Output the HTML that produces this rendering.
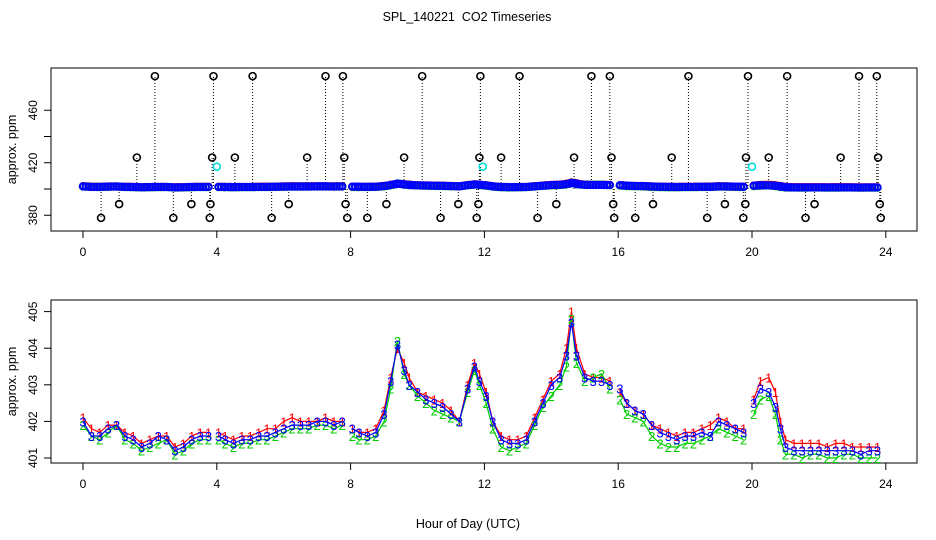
<!DOCTYPE html>
<html><head><meta charset="utf-8"><style>
html,body{margin:0;padding:0;background:#fff;}
svg{display:block;font-family:"Liberation Sans",sans-serif;}
</style></head><body>
<svg id="chart" width="936" height="540" viewBox="0 0 936 540">
<text x="467" y="21" font-size="12.5" text-anchor="middle" style="white-space:pre">SPL_140221  CO2 Timeseries</text>
<text x="468" y="528" font-size="12.5" text-anchor="middle">Hour of Day (UTC)</text>
<g id="top"></g>
<g id="bot"></g>
</svg>
<script>
const hours=[0,0.25,0.5,0.75,1,1.25,1.5,1.75,2,2.25,2.5,2.75,3,3.25,3.5,3.75,4.05,4.25,4.5,4.75,5,5.25,5.5,5.75,6,6.25,6.5,6.75,7,7.25,7.5,7.75,8.05,8.25,8.5,8.75,9,9.2,9.4,9.6,9.75,10,10.25,10.5,10.75,11,11.25,11.5,11.7,11.85,12.05,12.25,12.5,12.75,13,13.25,13.5,13.75,14,14.25,14.45,14.6,14.75,15,15.25,15.5,15.75,16.05,16.25,16.5,16.75,17,17.25,17.5,17.75,18,18.25,18.5,18.75,19,19.25,19.5,19.75,20.05,20.25,20.5,20.7,20.85,21,21.25,21.5,21.75,22,22.25,22.5,22.75,23,23.25,23.5,23.75];
const s1=[402.1,401.8,401.7,401.9,401.9,401.7,401.6,401.4,401.5,401.6,401.6,401.3,401.4,401.6,401.7,401.7,401.7,401.6,401.5,401.6,401.6,401.7,401.8,401.8,402.0,402.1,402.0,402.0,402.0,402.1,402.0,402.0,401.8,401.7,401.7,401.8,402.3,403.2,404.0,403.6,403.2,402.8,402.7,402.6,402.5,402.3,402.0,403.0,403.6,403.3,402.8,402.0,401.6,401.5,401.5,401.6,402.1,402.6,403.1,403.3,404.0,405.0,404.0,403.3,403.2,403.2,403.1,402.8,402.5,402.3,402.2,401.9,401.8,401.7,401.6,401.7,401.7,401.8,401.9,402.1,402.0,401.8,401.8,402.6,403.1,403.2,402.8,402.0,401.5,401.4,401.4,401.4,401.4,401.3,401.4,401.4,401.3,401.3,401.3,401.3];
const s2=[401.9,401.6,401.5,401.7,401.9,401.5,401.4,401.2,401.3,401.4,401.5,401.1,401.2,401.4,401.5,401.5,401.5,401.4,401.3,401.4,401.4,401.5,401.5,401.6,401.7,401.8,401.8,401.8,401.9,401.9,401.8,401.9,401.6,401.5,401.5,401.6,402.0,402.9,404.2,403.3,403.0,402.7,402.5,402.3,402.2,402.1,402.0,402.8,403.4,403.0,402.5,401.8,401.3,401.2,401.3,401.4,401.9,402.4,402.7,403.0,403.5,404.8,403.6,403.1,403.2,403.3,402.9,402.6,402.2,402.1,402.0,401.6,401.4,401.3,401.3,401.4,401.4,401.5,401.6,401.8,401.7,401.6,401.5,402.2,402.6,402.7,402.2,401.5,401.1,401.1,401.0,401.1,401.1,401.0,401.0,401.1,401.1,401.0,401.0,401.0];
const s3=[402.0,401.6,401.6,401.8,401.9,401.6,401.5,401.3,401.4,401.6,401.5,401.2,401.3,401.5,401.6,401.6,401.6,401.5,401.4,401.5,401.5,401.6,401.6,401.7,401.8,401.9,401.9,401.9,402.0,402.0,401.9,402.0,401.8,401.7,401.6,401.7,402.2,403.1,404.1,403.4,403.0,402.8,402.6,402.5,402.4,402.2,402.0,402.9,403.5,403.1,402.7,402.0,401.5,401.4,401.4,401.5,402.0,402.5,403.0,403.2,403.8,404.7,403.8,403.2,403.1,403.1,403.0,402.9,402.5,402.3,402.2,401.9,401.7,401.6,401.5,401.6,401.6,401.7,401.6,402.0,401.9,401.8,401.7,402.5,402.9,402.8,402.4,401.8,401.3,401.2,401.2,401.2,401.2,401.2,401.2,401.2,401.2,401.1,401.2,401.2];
const outHours=[2.15,3.9,5.07,7.25,7.77,10.14,11.88,13.05,15.2,15.75,18.1,19.88,21.05,23.2,23.73,1.61,3.86,4.54,6.7,7.81,9.6,11.85,12.5,14.68,15.8,17.6,19.82,20.5,22.65,23.77,1.08,3.24,3.81,6.15,7.85,9.07,11.22,11.82,14.15,15.85,17.04,19.19,19.8,21.87,23.82,0.54,2.7,3.79,5.64,7.9,8.5,10.69,11.77,13.59,15.88,16.51,18.66,19.74,21.6,23.85];
const outVals=[486,486,486,486,486,486,486,486,486,486,486,486,486,486,486,424,424,424,424,424,424,424,424,424,424,424,424,424,424,424,388.5,388.5,388.5,388.5,388.5,388.5,388.5,388.5,388.5,388.5,388.5,388.5,388.5,388.5,388.5,378,378,378,378,378,378,378,378,378,378,378,378,378,378,378];
const cyanHours=[4.0,11.95,20.0];
const cyanVals=[417,417,417];
const xTicks=[0,4,8,12,16,20,24];
const topYTicks=[380,400,420,440,460];
const topYLabels=["380","","420","","460"];
const botYTicks=[401,402,403,404,405];

const NS="http://www.w3.org/2000/svg";
function mk(p,t,a){const e=document.createElementNS(NS,t);for(const k in a)e.setAttribute(k,a[k]);p.appendChild(e);return e;}
const X=h=>83+h*33.45;
const L=51,R=917;
function frame(g,top,bot,yf,yt,ylab){
  let e=mk(g,'rect',{x:L,y:top,width:R-L,height:bot-top,fill:'none',stroke:'#000'});
  
  
  xTicks.forEach(t=>{mk(g,'line',{x1:X(t),x2:X(t),y1:bot,y2:bot+7,stroke:'#000'});
    const tx=mk(g,'text',{x:X(t),y:bot+25,'font-size':12,'text-anchor':'middle'});tx.textContent=t;
    
    });
  yt.forEach((t,i)=>{const y=yf(t);mk(g,'line',{x1:L-7,x2:L,y1:y,y2:y,stroke:'#000'});
    const lab=ylab[i];if(lab){const tx=mk(g,'text',{x:0,y:0,'font-size':12,'text-anchor':'middle',transform:`translate(37,${y}) rotate(-90)`});tx.textContent=lab;
    
    }});
  const yl=mk(g,'text',{x:0,y:0,'font-size':12.5,'text-anchor':'middle',transform:`translate(16,${(top+bot)/2}) rotate(-90)`});yl.textContent='approx. ppm';
  
  
}
function isGap(a,b){return b-a>0.27;}
// TOP
const gt=document.getElementById('top');
const YT=v=>189-(v-400)*1.3125;
frame(gt,68,231,YT,topYTicks,topYLabels);
outHours.forEach((h,i)=>{const l=mk(gt,'line',{x1:X(h),x2:X(h),y1:YT(400),y2:YT(outVals[i]),stroke:'#000','stroke-dasharray':'1,2'});
  
  
  const c=mk(gt,'circle',{cx:X(h),cy:YT(outVals[i]),r:3.5,fill:'none',stroke:'#000','stroke-width':1.6});
  
  });
[[s1,'#f00'],[s2,'#0c0'],[s3,'#00f']].forEach(([s,col])=>{
  for(let i=0;i<hours.length;i++){
    const n=(i<hours.length-1&&!isGap(hours[i],hours[i+1]))?3:1;
    for(let k=0;k<n;k++){const h=hours[i]+k*0.0833;const v=s[i]+(n>1?(s[i+1]-s[i])*k/3:0);
      const c=mk(gt,'circle',{cx:X(h),cy:YT(v),r:3.2,fill:'none',stroke:col,'stroke-width':2});
      
      }
  }});
cyanHours.forEach((h,i)=>{const c=mk(gt,'circle',{cx:X(h),cy:YT(cyanVals[i]),r:3.5,fill:'none',stroke:'#0dd','stroke-width':1.6});
  
  });
// BOTTOM
const gb=document.getElementById('bot');
const YB=v=>458-(v-401)*36.6;
frame(gb,300,463,YB,botYTicks,botYTicks.map(String));
[[s1,'#f00','1'],[s2,'#0c0','2'],[s3,'#00f','3']].forEach(([s,col,ch])=>{
  let d='';
  for(let i=0;i<hours.length;i++){d+=(i==0||isGap(hours[i-1],hours[i])?'M':'L')+X(hours[i]).toFixed(1)+','+YB(s[i]).toFixed(1);}
  const p=mk(gb,'path',{d:d,fill:'none',stroke:col,'stroke-width':1.2});
  
  
  for(let i=0;i<hours.length;i++){
    const t=mk(gb,'text',{x:X(hours[i]),y:YB(s[i])+5,'font-size':13,fill:col,'text-anchor':'middle'});t.textContent=ch;
    
    
  }});
</script>
</body></html>
